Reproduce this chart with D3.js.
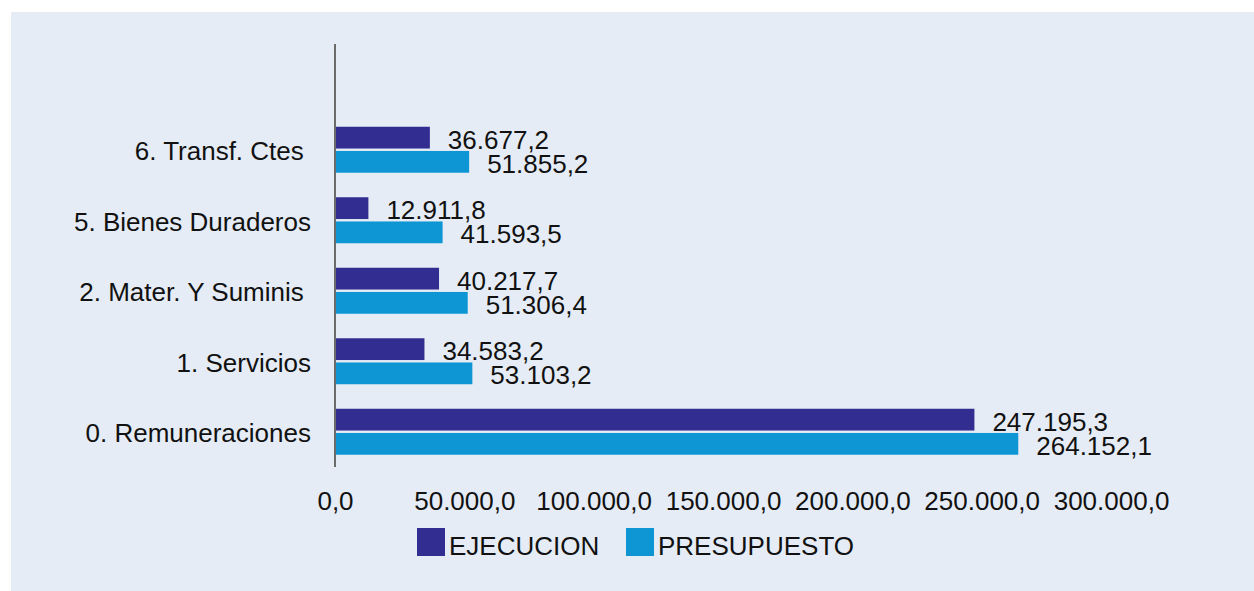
<!DOCTYPE html>
<html>
<head>
<meta charset="utf-8">
<script src="https://cdn.jsdelivr.net/npm/d3@7"></script>
<style>
  body { margin: 0; background: #fff; }
  text { font-family: "Liberation Sans", Arial, sans-serif; fill: #111; }
</style>
</head>
<body>
<div id="chart"></div>
<script>
// categories from top to bottom, first one is an empty slot as in the original
const categories = ["", "6. Transf. Ctes ", "5. Bienes Duraderos", "2. Mater. Y Suminis ", "1. Servicios", "0. Remuneraciones"];
const series = ["EJECUCION", "PRESUPUESTO"];
const ejecucion = [null, 36677.2, 12911.8, 40217.7, 34583.2, 247195.3];
const presupuesto = [null, 51855.2, 41593.5, 51306.4, 53103.2, 264152.1];
const xTicks = [0, 50000, 100000, 150000, 200000, 250000, 300000];
const colors = ["#322e91", "#0e96d4"];

const W = 1254, H = 591;
const fmt = function(v) {
  // 12.345,6 style
  var s = d3.format(",.1f")(v);
  return s.replace(/,/g, "#").replace(".", ",").replace(/#/g, ".");
};

const svg = d3.select("#chart").append("svg")
  .attr("width", W).attr("height", H);

svg.append("rect")
  .attr("x", 11).attr("y", 12)
  .attr("width", W - 11).attr("height", H - 12)
  .attr("fill", "#e5ecf5");

const x = d3.scaleLinear().domain([0, 300000]).range([335, 1111]);
const y = d3.scaleBand().domain(categories).range([44, 467]);
const bw = y.bandwidth();
const ySub = d3.scaleBand().domain(series)
  .range([bw / 2 - 23, bw / 2 + 23]).paddingInner(0.1);

const rows = categories.map(function(c, i) {
  return { cat: c, vals: [ejecucion[i], presupuesto[i]] };
});

// bars
const g = svg.append("g");
rows.forEach(function(r) {
  r.vals.forEach(function(v, j) {
    if (v == null) return;
    const yy = y(r.cat) + ySub(series[j]);
    g.append("rect")
      .attr("x", x(0))
      .attr("y", yy)
      .attr("width", x(v) - x(0))
      .attr("height", ySub.bandwidth())
      .attr("fill", colors[j]);
    g.append("text")
      .attr("x", x(v) + 18)
      .attr("y", yy + ySub.bandwidth())
      .style("font-size", "26px")
      .text(fmt(v));
  });
});

// category labels
svg.append("g").selectAll("text")
  .data(categories)
  .enter().append("text")
  .attr("x", 311)
  .attr("y", function(d) { return y(d) + bw / 2 + 10.5; })
  .attr("text-anchor", "end")
  .style("font-size", "26px")
  .style("white-space", "pre")
  .text(function(d) { return d; });

// vertical axis line
svg.append("line")
  .attr("x1", x(0)).attr("x2", x(0))
  .attr("y1", 44).attr("y2", 467)
  .attr("stroke", "#6b6b6b").attr("stroke-width", 2);

// x tick labels (no axis line in the original)
const xAxis = d3.axisBottom(x).tickValues(xTicks).tickFormat(fmt).tickSize(0).tickPadding(0);
const ax = svg.append("g").attr("transform", "translate(0,492)").call(xAxis);
ax.select(".domain").remove();
ax.selectAll("text")
  .attr("dy", null).attr("y", 18)
  .style("font-size", "26px")
  .style("font-family", "\"Liberation Sans\", Arial, sans-serif")
  .attr("fill", "#111");

// legend
const legendX = [417, 626];
series.forEach(function(s, j) {
  svg.append("rect")
    .attr("x", legendX[j]).attr("y", 528)
    .attr("width", 28).attr("height", 28)
    .attr("fill", colors[j]);
  svg.append("text")
    .attr("x", legendX[j] + 32).attr("y", 555)
    .style("font-size", "26px")
    .text(s);
});
</script>
</body>
</html>
